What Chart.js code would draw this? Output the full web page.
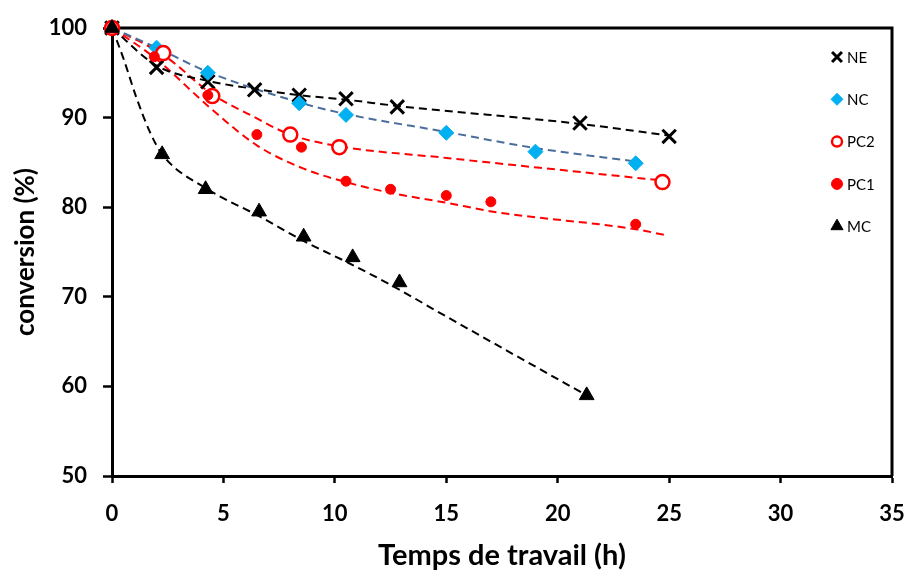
<!DOCTYPE html>
<html>
<head>
<meta charset="utf-8">
<script src="https://cdn.jsdelivr.net/npm/chart.js@4.4.1/dist/chart.umd.min.js"></script>
<style>
  html, body { margin: 0; padding: 0; background: #fff; }
  #wrap { width: 909px; height: 570px; }
</style>
</head>
<body>
<div id="wrap"><canvas id="chart"></canvas></div>
<script>
// measured points: time (h) / conversion (%)
const neX = [0, 2.0, 4.3, 6.4, 8.4, 10.5, 12.8, 21.0, 25.0];
const neY = [100, 95.6, 94.0, 93.1, 92.5, 92.1, 91.2, 89.4, 87.9];
const ncX = [0, 2.0, 4.3, 8.4, 10.5, 15.0, 19.0, 23.5];
const ncY = [100, 97.8, 95.0, 91.6, 90.3, 88.3, 86.2, 84.9];
const pc2X = [0, 2.3, 4.5, 8.0, 10.2, 24.7];
const pc2Y = [100, 97.2, 92.4, 88.1, 86.7, 82.8];
const pc1X = [0, 1.9, 4.3, 6.5, 8.5, 10.5, 12.5, 15.0, 17.0, 23.5];
const pc1Y = [100, 96.8, 92.5, 88.1, 86.7, 82.9, 82.0, 81.3, 80.6, 78.1];
const mcX = [0, 2.25, 4.2, 6.6, 8.6, 10.8, 12.9, 21.3];
const mcY = [100, 85.9, 82.0, 79.5, 76.7, 74.4, 71.6, 59.0];

// dashed trend curves
const neTrendX = [0, 2.0, 4.3, 6.4, 8.4, 10.5, 12.8, 21.0, 25.0];
const neTrendY = [100, 95.8, 94.1, 93.2, 92.5, 92.0, 91.3, 89.3, 88.0];
const ncTrendX = [0, 2.0, 4.3, 8.4, 10.3, 15.0, 19.0, 23.5];
const ncTrendY = [100, 97.8, 95.1, 91.7, 90.5, 88.4, 86.6, 85.1];
const pc2TrendX = [0, 2.3, 4.5, 6.2, 8.0, 10.2, 15.0, 19.2, 24.6];
const pc2TrendY = [100, 97.0, 92.6, 90.3, 88.1, 86.8, 85.5, 84.4, 83.0];
const pc1TrendX = [0, 1.9, 4.4, 6.5, 8.6, 10.5, 12.5, 15.0, 17.1, 23.6, 24.8];
const pc1TrendY = [100, 96.7, 91.1, 86.9, 84.3, 82.8, 81.6, 80.5, 79.5, 77.5, 76.9];
const mcTrendX = [0, 0.5, 1.1, 1.7, 2.25, 4.3, 6.6, 8.7, 10.6, 12.6, 15.0, 21.3];
const mcTrendY = [100, 96.7, 92.2, 88.4, 85.9, 82.0, 79.0, 76.1, 73.8, 71.2, 67.8, 59.0];

const xTicks = [0, 5, 10, 15, 20, 25, 30, 35];
const yTicks = [50, 60, 70, 80, 90, 100];

const toPts = (xs, ys) => xs.map((x, i) => ({ x: x, y: ys[i] }));

function markers(label, xs, ys, style, fill, stroke, radius, bw, order, legend) {
  return {
    label: label,
    data: toPts(xs, ys),
    showLine: false,
    pointStyle: style,
    backgroundColor: fill,
    borderColor: stroke,
    pointRadius: radius,
    pointBorderWidth: bw,
    order: order,
    clip: false,
    legendMarker: legend
  };
}

function trend(xs, ys, color) {
  return {
    data: toPts(xs, ys),
    showLine: true,
    borderColor: color,
    borderWidth: 2,
    borderDash: [8, 5],
    pointRadius: 0,
    cubicInterpolationMode: "monotone",
    order: 20,
    clip: false
  };
}

// legend sits inside the plot, top right
const insideLegend = {
  id: "insideLegend",
  afterDatasetsDraw(chart) {
    const ctx = chart.ctx;
    const x0 = 837, y0 = 57, step = 42.3;
    chart.data.datasets.filter(d => d.legendMarker).forEach((d, i) => {
      const y = y0 + i * step;
      ctx.save();
      ctx.fillStyle = d.backgroundColor;
      ctx.strokeStyle = d.borderColor;
      ctx.lineWidth = d.legendMarker.bw;
      Chart.helpers.drawPoint(ctx, {
        pointStyle: d.pointStyle, radius: d.legendMarker.r, rotation: 0, borderWidth: d.legendMarker.bw
      }, x0, y);
      ctx.fillStyle = "#000";
      ctx.font = "15px Lato";
      ctx.textBaseline = "middle";
      ctx.textAlign = "left";
      ctx.fillText(d.label, x0 + 10, y + 1);
      ctx.restore();
    });
  }
};

// top and right edges of the plot box
const plotBox = {
  id: "plotBox",
  beforeDatasetsDraw(chart) {
    const { ctx, chartArea: a } = chart;
    ctx.save();
    ctx.strokeStyle = "#000";
    ctx.lineWidth = 3;
    ctx.beginPath();
    ctx.moveTo(a.left, a.top);
    ctx.lineTo(a.right, a.top);
    ctx.lineTo(a.right, a.bottom);
    ctx.stroke();
    ctx.restore();
  }
};

// keep the plot area where the reference has it
function noEdgePadding(s) {
  s.paddingLeft = 0;
  s.paddingRight = 0;
  s.paddingTop = 0;
  s.paddingBottom = 0;
}

Chart.defaults.font.family = "Lato";
Chart.defaults.color = "#000";

new Chart(document.getElementById("chart"), {
  type: "scatter",
  data: {
    datasets: [
      markers("NE", neX, neY, "crossRot", "#000", "#000", 9.5, 3, 5, { r: 7, bw: 3 }),
      markers("NC", ncX, ncY, "rectRot", "#00B0F0", "#00B0F0", 7.5, 1, 4, { r: 6, bw: 1 }),
      markers("PC2", pc2X, pc2Y, "circle", "#fff", "#FF0000", 7, 2.5, 3, { r: 5, bw: 2.5 }),
      markers("PC1", pc1X, pc1Y, "circle", "#FF0000", "#FF0000", 5, 1, 2, { r: 5.5, bw: 1 }),
      markers("MC", mcX, mcY, "triangle", "#000", "#000", 8.5, 1, 1, { r: 7, bw: 1 }),
      trend(neTrendX, neTrendY, "#000"),
      trend(ncTrendX, ncTrendY, "#4A6E9C"),
      trend(pc2TrendX, pc2TrendY, "#FF0000"),
      trend(pc1TrendX, pc1TrendY, "#FF0000"),
      trend(mcTrendX, mcTrendY, "#000")
    ]
  },
  options: {
    responsive: true,
    maintainAspectRatio: false,
    animation: false,
    layout: { padding: { top: 28, right: 17, left: 0, bottom: 0 } },
    plugins: {
      legend: { display: false },
      tooltip: { enabled: false }
    },
    scales: {
      x: {
        type: "linear",
        min: 0,
        max: 35,
        afterBuildTicks: s => { s.ticks = xTicks.map(v => ({ value: v })); },
        afterFit: s => { s.height = 94; noEdgePadding(s); },
        border: { display: true, color: "#000", width: 3 },
        grid: { drawOnChartArea: false, drawTicks: true, tickLength: 7, tickWidth: 2.5, tickColor: "#000" },
        ticks: { font: { size: 22, weight: "bold" }, padding: 18, maxRotation: 0 },
        title: {
          display: true,
          text: "Temps de travail (h)",
          font: { size: 29, weight: "bold", lineHeight: 1.0 },
          padding: { top: 0, bottom: 0 }
        }
      },
      y: {
        type: "linear",
        min: 50,
        max: 100,
        afterBuildTicks: s => { s.ticks = yTicks.map(v => ({ value: v })); },
        afterFit: s => { s.width = 112; noEdgePadding(s); },
        border: { display: true, color: "#000", width: 3 },
        grid: { drawOnChartArea: false, drawTicks: true, tickLength: 9, tickWidth: 2.5, tickColor: "#000" },
        ticks: { font: { size: 22, weight: "bold" }, padding: 16 },
        title: {
          display: true,
          text: "conversion (%)",
          font: { size: 26, weight: "bold" },
          padding: { top: 10, bottom: 0 }
        }
      }
    }
  },
  plugins: [plotBox, insideLegend]
});
</script>
</body>
</html>
